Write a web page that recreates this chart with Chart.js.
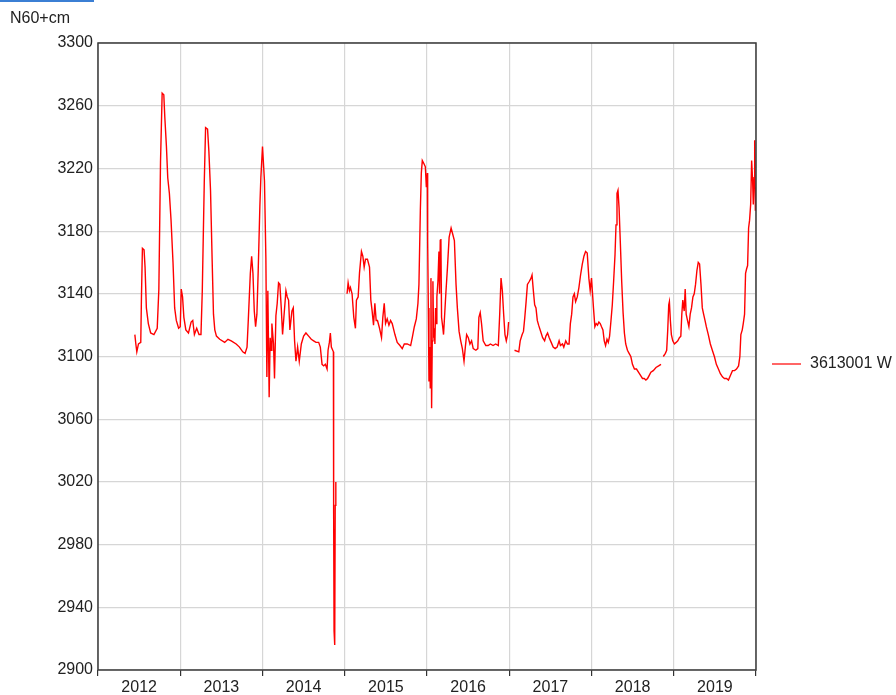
<!DOCTYPE html>
<html>
<head>
<meta charset="utf-8">
<title>3613001 W</title>
<script src="https://cdn.jsdelivr.net/npm/chart.js@4.4.0/dist/chart.umd.min.js"></script>
<style>
  html, body { margin: 0; padding: 0; background: #fff; }
  #wrap { width: 896px; height: 695px; }
</style>
</head>
<body>
<div id="wrap"><canvas id="levelChart" width="896" height="695"></canvas></div>
<script>
// Données (temps en années décimales, niveau en N60+cm)
const yearLabels = ['2012', '2013', '2014', '2015', '2016', '2017', '2018', '2019'];
const yTicks = [2900, 2940, 2980, 3020, 3060, 3100, 3140, 3180, 3220, 3260, 3300];
const seriesName = '3613001 W';
const unitLabel = 'N60+cm';

const times = [
  2012.448, 2012.460, 2012.472, 2012.492, 2012.520, 2012.528, 2012.540, 2012.560, 2012.572, 2012.588,
  2012.612, 2012.640, 2012.680, 2012.720, 2012.740, 2012.760, 2012.780, 2012.800, 2012.812, 2012.832,
  2012.848, 2012.868, 2012.888, 2012.912, 2012.932, 2012.952, 2012.980, 2013.000, 2013.012, 2013.028,
  2013.044, 2013.068, 2013.100, 2013.132, 2013.152, 2013.172, 2013.200, 2013.228, 2013.252, 2013.268,
  2013.292, 2013.308, 2013.332, 2013.348, 2013.368, 2013.388, 2013.404, 2013.420, 2013.440, 2013.480,
  2013.540, 2013.580, 2013.620, 2013.680, 2013.720, 2013.760, 2013.788, 2013.812, 2013.828, 2013.852,
  2013.868, 2013.884, 2013.900, 2013.916, 2013.932, 2013.948, 2013.968, 2013.980, 2014.000,
  2014.024, 2014.041, 2014.053, 2014.065, 2014.081, 2014.093, 2014.106, 2014.114, 2014.134, 2014.146,
  2014.163, 2014.179, 2014.195, 2014.211, 2014.228, 2014.244, 2014.260, 2014.285, 2014.301, 2014.317,
  2014.333, 2014.358, 2014.374, 2014.390, 2014.407, 2014.427, 2014.447, 2014.472, 2014.500, 2014.528,
  2014.561, 2014.593, 2014.622, 2014.650, 2014.683, 2014.703, 2014.724, 2014.744, 2014.764, 2014.785,
  2014.797, 2014.813, 2014.825, 2014.837, 2014.862, 2014.865, 2014.870, 2014.878, 2014.884, 2014.890,
  2014.893, 2014.950,
  2015.028, 2015.041, 2015.057, 2015.069, 2015.089, 2015.110, 2015.130, 2015.142, 2015.163, 2015.179,
  2015.203, 2015.220, 2015.236, 2015.252, 2015.276, 2015.301, 2015.317, 2015.333, 2015.350, 2015.366,
  2015.382, 2015.398, 2015.423, 2015.447, 2015.463, 2015.480, 2015.496, 2015.516, 2015.537, 2015.557,
  2015.577, 2015.610, 2015.638, 2015.671, 2015.699, 2015.724, 2015.760, 2015.801, 2015.821, 2015.846,
  2015.870, 2015.890, 2015.902, 2015.919, 2015.931, 2015.943, 2015.963, 2015.980, 2015.992, 2016.004,
  2016.008, 2016.016, 2016.024, 2016.032, 2016.040, 2016.048, 2016.056, 2016.064, 2016.072, 2016.080,
  2016.088, 2016.096, 2016.104, 2016.112, 2016.120, 2016.133, 2016.145, 2016.153, 2016.161, 2016.169,
  2016.177, 2016.193, 2016.201, 2016.213, 2016.229, 2016.249, 2016.269, 2016.293, 2016.313, 2016.333,
  2016.353, 2016.369, 2016.390, 2016.410, 2016.430, 2016.450, 2016.466, 2016.482, 2016.502, 2016.522,
  2016.542, 2016.562, 2016.594, 2016.618, 2016.631, 2016.647, 2016.663, 2016.683, 2016.715, 2016.743,
  2016.771, 2016.803, 2016.835, 2016.867, 2016.884, 2016.900, 2016.916, 2016.932, 2016.948, 2016.964,
  2016.980, 2016.992, 2017.030,
  2017.064, 2017.116, 2017.133, 2017.157, 2017.173, 2017.189, 2017.205, 2017.221, 2017.245, 2017.265,
  2017.277, 2017.293, 2017.309, 2017.325, 2017.341, 2017.357, 2017.382, 2017.406, 2017.430, 2017.446,
  2017.466, 2017.486, 2017.510, 2017.534, 2017.558, 2017.582, 2017.606, 2017.622, 2017.647, 2017.663,
  2017.687, 2017.707, 2017.727, 2017.743, 2017.759, 2017.775, 2017.791, 2017.807, 2017.827, 2017.847,
  2017.867, 2017.888, 2017.908, 2017.928, 2017.948, 2017.968, 2017.984, 2018.000,
  2018.024, 2018.041, 2018.057, 2018.073, 2018.090, 2018.106, 2018.122, 2018.139, 2018.155, 2018.171,
  2018.188, 2018.204, 2018.220, 2018.237, 2018.253, 2018.269, 2018.286, 2018.298, 2018.310, 2018.322,
  2018.335, 2018.351, 2018.367, 2018.384, 2018.400, 2018.416, 2018.437, 2018.457, 2018.478, 2018.498,
  2018.522, 2018.547, 2018.571, 2018.596, 2018.620, 2018.641, 2018.661, 2018.682, 2018.702, 2018.722,
  2018.751, 2018.784, 2018.816, 2018.845, 2018.858,
  2018.873, 2018.898, 2018.914, 2018.927, 2018.939, 2018.947, 2018.959, 2018.971, 2018.988, 2019.008,
  2019.029, 2019.049, 2019.069, 2019.086, 2019.098, 2019.110, 2019.127, 2019.139, 2019.151, 2019.167,
  2019.184, 2019.200, 2019.216, 2019.233, 2019.249, 2019.265, 2019.282, 2019.298, 2019.314, 2019.331,
  2019.347, 2019.363, 2019.380, 2019.396, 2019.420, 2019.445, 2019.469, 2019.494, 2019.518, 2019.543,
  2019.567, 2019.592, 2019.616, 2019.641, 2019.665, 2019.690, 2019.714, 2019.739, 2019.763, 2019.788,
  2019.804, 2019.816, 2019.833, 2019.845, 2019.861, 2019.873, 2019.886, 2019.898, 2019.910, 2019.922,
  2019.935, 2019.947, 2019.959, 2019.967, 2019.976, 2019.984, 2019.992, 2020.000
];

const levels = [
  3114, 3108, 3103, 3108, 3109, 3137, 3169, 3168, 3157, 3131,
  3121, 3115, 3114, 3118, 3143, 3224, 3268, 3267, 3253, 3234,
  3214, 3204, 3187, 3160, 3131, 3123, 3118, 3119, 3143, 3138,
  3125, 3117, 3115, 3122, 3123, 3114, 3118, 3114, 3114, 3142,
  3211, 3246, 3245, 3231, 3206, 3161, 3127, 3117, 3113, 3111,
  3109, 3111, 3110, 3108, 3106, 3103, 3102, 3106, 3124, 3153,
  3164, 3153, 3129, 3119, 3127, 3155, 3196, 3214, 3234,
  3212, 3163, 3087, 3142, 3074, 3112, 3104, 3121, 3108, 3086,
  3126, 3134, 3147, 3146, 3131, 3114, 3125, 3142, 3138, 3136,
  3117, 3129, 3131, 3110, 3097, 3106, 3097, 3108, 3113, 3115,
  3113, 3111, 3110, 3109, 3109, 3106, 3095, 3094, 3095, 3092,
  3104, 3109, 3115, 3106, 3103, 3000, 2925, 2916, 3005, 3020,
  3008, null,
  3140, 3147, 3142, 3144, 3140, 3125, 3118, 3136, 3138, 3153,
  3167, 3164, 3157, 3162, 3162, 3157, 3136, 3129, 3120, 3134,
  3123, 3123, 3118, 3112, 3125, 3134, 3121, 3124, 3120, 3123,
  3121, 3114, 3109, 3107, 3105, 3108, 3108, 3107, 3112, 3119,
  3124, 3134, 3146, 3193, 3217, 3225, 3223, 3221, 3208, 3217,
  3174, 3131, 3084, 3106, 3080, 3150, 3067, 3110, 3148, 3112,
  3118, 3108, 3131, 3121, 3138, 3148, 3167, 3140, 3174, 3175,
  3125, 3118, 3114, 3125, 3140, 3157, 3176, 3182, 3178, 3174,
  3146, 3131, 3116, 3110, 3105, 3097, 3106, 3114, 3112, 3108,
  3110, 3105, 3104, 3105, 3125, 3128, 3121, 3110, 3107, 3107,
  3108, 3107, 3108, 3107, 3127, 3150, 3142, 3127, 3114, 3110,
  3114, 3122, null,
  3104, 3103, 3110, 3114, 3116, 3125, 3135, 3146, 3148, 3150,
  3152, 3142, 3133, 3131, 3123, 3120, 3116, 3112, 3110, 3113,
  3115, 3112, 3109, 3106, 3105, 3106, 3110, 3107, 3108, 3106,
  3110, 3108, 3108, 3121, 3127, 3138, 3140, 3135, 3138, 3144,
  3152, 3159, 3164, 3167, 3166, 3150, 3142, 3150,
  3131, 3119, 3121, 3120, 3122, 3121, 3119, 3117, 3110, 3107,
  3111, 3109, 3113, 3123, 3133, 3148, 3165, 3184, 3204, 3206,
  3195, 3172, 3148, 3128, 3115, 3108, 3104, 3102, 3100, 3095,
  3092, 3092, 3090, 3088, 3086, 3086, 3085, 3086, 3088, 3090,
  3091, 3093, 3094, 3095, null,
  3100, 3102, 3104, 3117, 3133, 3135, 3123, 3114, 3110, 3108,
  3109, 3110, 3112, 3113, 3127, 3136, 3129, 3143, 3127, 3123,
  3119, 3127, 3131, 3138, 3140, 3146, 3155, 3160, 3159, 3146,
  3131, 3127, 3123, 3119, 3114, 3108, 3104, 3100, 3095, 3092,
  3089, 3087, 3086, 3086, 3085, 3088, 3091, 3091, 3092, 3094,
  3100, 3114, 3117, 3121, 3127, 3153, 3156, 3158, 3182, 3187,
  3197, 3225, 3212, 3197, 3214, 3238, 3193, 3208
];

const FONT = '"Liberation Sans", Arial, sans-serif';
const TEXT = '#222';

// Cadre, titre d'axe, légende à droite et le trait bleu coupé en haut
const decorations = {
  id: 'decorations',
  afterDraw(chart) {
    const { ctx, chartArea: a } = chart;
    ctx.save();
    ctx.strokeStyle = '#3a3a3a';
    ctx.lineWidth = 1.5;
    ctx.strokeRect(a.left, a.top, a.right - a.left, a.bottom - a.top);

    ctx.fillStyle = '#3b7fd4';
    ctx.fillRect(0, 0, 94, 2);

    ctx.fillStyle = TEXT;
    ctx.font = '16px ' + FONT;
    ctx.textBaseline = 'middle';
    ctx.textAlign = 'left';
    ctx.fillText(unitLabel, 10, 19);

    ctx.strokeStyle = '#ff0000';
    ctx.lineWidth = 1.2;
    ctx.beginPath();
    ctx.moveTo(772, 364);
    ctx.lineTo(801, 364);
    ctx.stroke();
    ctx.fillText(seriesName, 810, 364);
    ctx.restore();
  }
};

new Chart(document.getElementById('levelChart'), {
  type: 'line',
  data: {
    datasets: [{
      label: seriesName,
      data: times.map((t, i) => ({ x: t, y: levels[i] })),
      borderColor: '#ff0000',
      borderWidth: 1.4,
      pointRadius: 0,
      tension: 0,
      spanGaps: false,
      fill: false
    }]
  },
  options: {
    responsive: false,
    animation: false,
    layout: { padding: { left: 0, right: 140, top: 43, bottom: 0 } },
    plugins: {
      legend: { display: false },
      tooltip: { enabled: false }
    },
    scales: {
      x: {
        type: 'linear',
        min: 2012,
        max: 2020,
        afterFit: s => { s.height = 25; },
        border: { display: false },
        grid: {
          color: c => Number.isInteger(c.tick.value) ? '#d6d6d6' : 'rgba(0,0,0,0)',
          tickColor: c => Number.isInteger(c.tick.value) ? '#333' : 'rgba(0,0,0,0)',
          tickLength: 6,
          lineWidth: 1.2
        },
        ticks: {
          stepSize: 0.5,
          autoSkip: false,
          maxRotation: 0,
          padding: 2,
          color: TEXT,
          font: { family: FONT, size: 16 },
          callback: v => Number.isInteger(v) ? '' : yearLabels[Math.floor(v) - 2012]
        }
      },
      y: {
        min: yTicks[0],
        max: yTicks[yTicks.length - 1],
        afterFit: s => { s.width = 98; },
        afterBuildTicks: s => { s.ticks = yTicks.map(v => ({ value: v })); },
        border: { display: false },
        grid: { color: '#d6d6d6', drawTicks: false, lineWidth: 1.2 },
        ticks: {
          padding: 5,
          color: TEXT,
          font: { family: FONT, size: 16 },
          callback: v => String(v)
        }
      }
    }
  },
  plugins: [decorations]
});
</script>
</body>
</html>
